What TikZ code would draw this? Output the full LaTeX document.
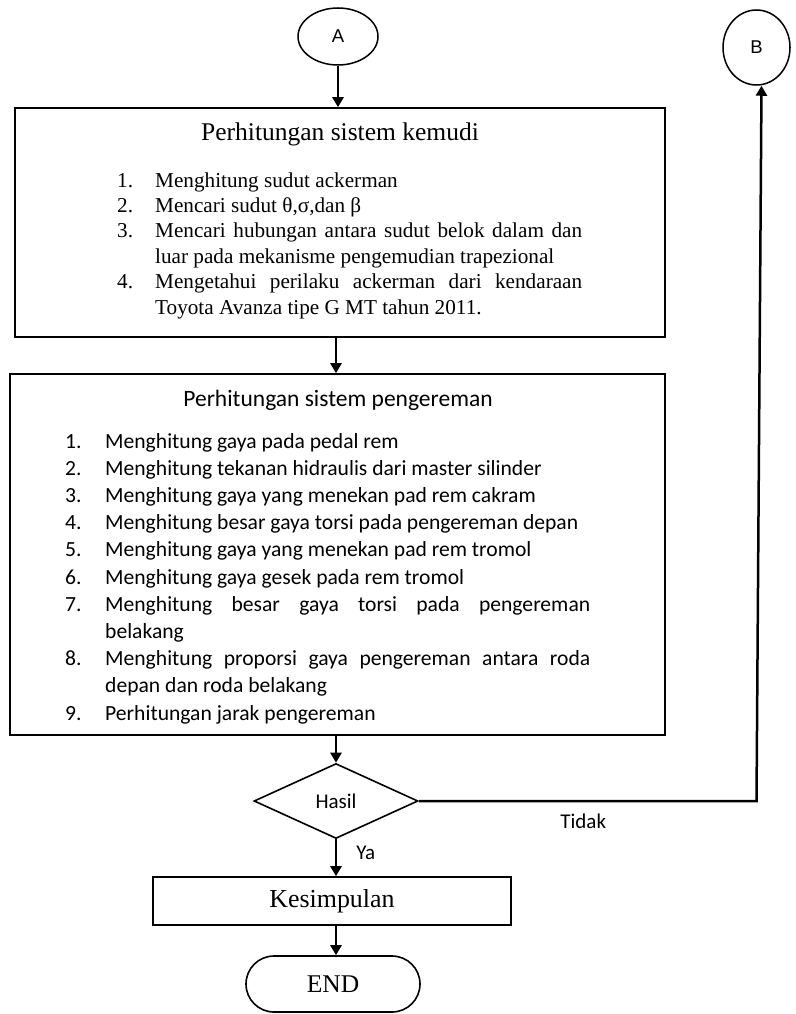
\documentclass[tikz,border=0pt]{standalone}
\usepackage{fontspec}
\setmainfont{Liberation Serif}
\newfontfamily\calibriFont{Carlito}
\newfontfamily\arialFont{Liberation Sans}
\usetikzlibrary{shapes.geometric,arrows.meta}
\newcommand{\KemItem}[2]{\noindent\hangindent=38pt\hangafter=1\makebox[38pt][l]{#1}#2\par}
\newcommand{\RemItem}[2]{\noindent\hangindent=40pt\hangafter=1\makebox[40pt][l]{#1}#2\par}
\tikzset{
  flowBox/.style={draw,line width=1.6pt,inner sep=0pt},
  flowCircle/.style={ellipse,draw,line width=1.5pt,inner sep=0pt,font=\arialFont\fontsize{18.5}{20}\selectfont},
  flowArrow/.style={line width=2.5pt,-{Triangle[length=10pt,width=11pt]}},
  flowLabel/.style={inner sep=0pt,font=\calibriFont\fontsize{21}{25}\selectfont}
}
\begin{document}
\begin{tikzpicture}[x=1pt,y=-1pt]
\useasboundingbox (0,0) rectangle (795,1014);
% connector circles
\node[flowCircle,minimum width=80pt,minimum height=57pt] (A) at (338,36.5) {A};
\node[flowCircle,minimum width=67pt,minimum height=75pt] (B) at (756.5,47.5) {B};

% steering calculation
\node[flowBox,minimum width=650pt,minimum height=229pt] (kemBox) at (340,222.5) {};
\node[anchor=base,inner sep=0pt,font=\fontsize{25.5}{28}\selectfont] (kemTitle) at (340,140) {Perhitungan sistem kemudi};
\node[anchor=base west,inner sep=0pt,text width=465pt,align=justify,font=\fontsize{21.2}{25.4}\selectfont] (kemList) at (117,187) {%
\parskip=0pt
\KemItem{1.}{Menghitung sudut ackerman}
\KemItem{2.}{Mencari sudut θ,σ,dan β}
\KemItem{3.}{Mencari hubungan antara sudut belok dalam dan\linebreak luar pada mekanisme pengemudian trapezional}
\KemItem{4.}{Mengetahui perilaku ackerman dari kendaraan\linebreak Toyota Avanza tipe G MT tahun 2011.}};

% braking calculation
\node[flowBox,minimum width=655pt,minimum height=361pt] (remBox) at (337.5,554.5) {};
\node[anchor=base,inner sep=0pt,font=\calibriFont\fontsize{23.5}{27}\selectfont] (remTitle) at (338,406) {Perhitungan sistem pengereman};
\node[anchor=base west,inner sep=0pt,text width=525pt,align=justify,font=\calibriFont\fontsize{21.6}{27.2}\selectfont] (remList) at (65,448) {%
\parskip=0pt
\RemItem{1.}{Menghitung gaya pada pedal rem}
\RemItem{2.}{Menghitung tekanan hidraulis dari master silinder}
\RemItem{3.}{Menghitung gaya yang menekan pad rem cakram}
\RemItem{4.}{Menghitung besar gaya torsi pada pengereman depan}
\RemItem{5.}{Menghitung gaya yang menekan pad rem tromol}
\RemItem{6.}{Menghitung gaya gesek pada rem tromol}
\RemItem{7.}{Menghitung besar gaya torsi pada pengereman\linebreak belakang}
\RemItem{8.}{Menghitung proporsi gaya pengereman antara roda\linebreak depan dan roda belakang}
\RemItem{9.}{Perhitungan jarak pengereman}};

% decision and end
\node[diamond,draw,line width=1.6pt,minimum width=164pt,minimum height=75pt,inner sep=0pt,font=\calibriFont\fontsize{21}{25}\selectfont] (hasil) at (336,801) {Hasil};
\node[flowBox,minimum width=358pt,minimum height=48pt,font=\fontsize{25.9}{28}\selectfont] (kesBox) at (332,901) {Kesimpulan};
\node[flowBox,rounded corners=28pt,minimum width=174pt,minimum height=56pt,font=\fontsize{25.5}{28}\selectfont] (endNode) at (333,984) {END};

% connectors
\draw[flowArrow] (A.south) -- (A.south |- kemBox.north);
\draw[flowArrow] (kemBox.south -| hasil) -- (remBox.north -| hasil);
\draw[flowArrow] (remBox.south -| hasil) -- (hasil.north);
\draw[flowArrow] (hasil.south) -- node[flowLabel,anchor=west,xshift=19pt,yshift=5pt] (ya) {Ya} (kesBox.north -| hasil);
\draw[flowArrow] (kesBox.south -| hasil) -- (endNode.north -| hasil);
\draw[flowArrow] (hasil.east) -- node[flowLabel,pos=0.487,anchor=north,yshift=-12pt] (tidak) {Tidak} (hasil.east -| B.south) -- ([xshift=5pt]B.south);
\end{tikzpicture}
\end{document}
